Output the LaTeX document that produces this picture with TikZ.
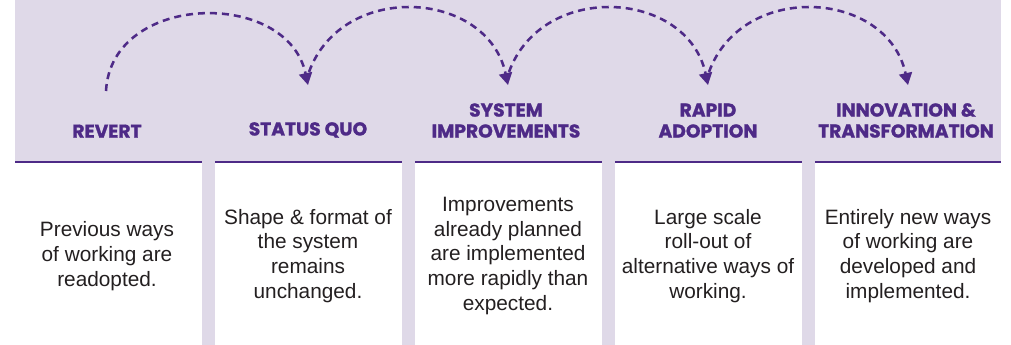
\documentclass[tikz,border=0pt]{standalone}
\usepackage{fontspec}
\setmainfont{Liberation Sans}
\newfontfamily\headfont{Poppins}[BoldFeatures={FakeBold=1.2}]
\usetikzlibrary{arrows.meta,positioning}
\definecolor{lavender}{HTML}{DFD9E8}
\definecolor{deeppurple}{HTML}{4E2A87}
\definecolor{bodygray}{HTML}{231F20}

\begin{document}
\begin{tikzpicture}[
    x=0.75pt, y=0.75pt,
    heading/.style={anchor=south, inner sep=0pt, align=center, text=deeppurple,
      font=\headfont\bfseries\fontsize{14}{15.75}\selectfont},
    blurb/.style={anchor=center, inner sep=0pt, align=center, text=bodygray,
      font=\fontsize{15.6}{18.6}\selectfont},
    divider/.style={draw=deeppurple, line width=1.9pt},
    hop/.style={draw=deeppurple, line width=1.9pt, dash pattern=on 5.25pt off 3.75pt,
      -{Triangle[width=9.75pt,length=9pt]}, looseness=1.25}
  ]
  \useasboundingbox (0,0) rectangle (1011,-345);

  % Background band and column gaps
  \fill[lavender] (15,0) rectangle (1001,-162);
  \fill[lavender] (202,-162) rectangle (215,-345);
  \fill[lavender] (402,-162) rectangle (415,-345);
  \fill[lavender] (602,-162) rectangle (615,-345);
  \fill[lavender] (802,-162) rectangle (815,-345);

  \draw[divider] (15,-162) -- (202,-162);
  \draw[divider] (215,-162) -- (402,-162);
  \draw[divider] (415,-162) -- (602,-162);
  \draw[divider] (615,-162) -- (802,-162);
  \draw[divider] (815,-162) -- (1001,-162);

  % Stage headings
  \node[heading] (revert) at (107,-138) {REVERT};
  \node[heading] (statusquo) at (308,-138) {STATUS QUO};
  \node[heading] (improve) at (506,-138) {SYSTEM\\IMPROVEMENTS};
  \node[heading] (adoption) at (708,-138) {RAPID\\ADOPTION};
  \node[heading] (innovation) at (906,-138) {INNOVATION \&\\TRANSFORMATION};

  % Stage descriptions
  \node[blurb] (revertText) at (107,-256) {Previous ways\\of working are\\readopted.};
  \node[blurb] (statusText) at (308,-256) {Shape \& format of\\the system\\remains\\unchanged.};
  \node[blurb] (improveText) at (508,-256) {Improvements\\already planned\\are implemented\\more rapidly than\\expected.};
  \node[blurb] (adoptText) at (708,-256) {Large scale\\roll-out of\\alternative ways of\\working.};
  \node[blurb] (innovText) at (908,-256) {Entirely new ways\\of working are\\developed and\\implemented.};

  % Hops between stages
  \coordinate (lift1) at (106,-91);
  \coordinate (land2) at (308,-85);
  \coordinate (lift2) at (309,-72);
  \coordinate (land3) at (508,-85);
  \coordinate (lift3) at (509,-72);
  \coordinate (land4) at (708,-85);
  \coordinate (lift4) at (709,-72);
  \coordinate (land5) at (908,-85);

  \draw[hop] (lift1) to[out=87, in=102] (land2);
  \draw[hop] (lift2) to[out=70, in=102] (land3);
  \draw[hop] (lift3) to[out=70, in=102] (land4);
  \draw[hop] (lift4) to[out=70, in=102] (land5);

\end{tikzpicture}
\end{document}
